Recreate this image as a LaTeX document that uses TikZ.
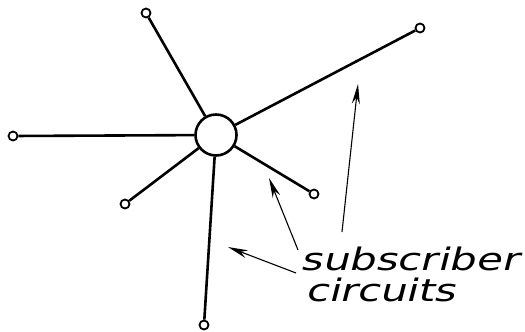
\documentclass[tikz,border=0pt]{standalone}
\usepackage{fontspec}
\newfontfamily\lblfont[FakeSlant=0.25,FakeStretch=1.35]{DejaVu Sans}
\usetikzlibrary{arrows.meta}
\begin{document}
\begin{tikzpicture}[x=1pt,y=-1pt,
  hub/.style={circle,draw,line width=2.6pt,minimum size=41pt,inner sep=0pt},
  term/.style={circle,draw,line width=1.8pt,minimum size=9pt,inner sep=0pt},
  wire/.style={line width=2.6pt},
  pointer/.style={line width=1.1pt,-{Stealth[length=20pt,width=8pt]}},
  lbl/.style={font=\lblfont\fontsize{31}{31}\selectfont,inner sep=0pt,anchor=west}]
\useasboundingbox (0,0) rectangle (525,332);
\node[hub] (c) at (216,135) {};
\node[term] (t1) at (146,13) {};
\node[term] (t2) at (420,28) {};
\node[term] (t3) at (13,136) {};
\node[term] (t4) at (125,204) {};
\node[term] (t5) at (314,194) {};
\node[term] (t6) at (204,325) {};
\foreach \t in {t1,t2,t3,t4,t5,t6} \draw[wire] (\t) -- (c);
\node[lbl] (s1) at (300,259) {subscriber};
\node[lbl] (s2) at (305,290) {circuits};
\coordinate (a1) at (342,232);
\coordinate (a2) at (298,250);
\coordinate (a3) at (296,273);
\coordinate (h1) at (358,84);
\coordinate (h2) at (269,178);
\coordinate (h3) at (228,247);
\draw[pointer] (a1) -- (h1);
\draw[pointer] (a2) -- (h2);
\draw[pointer] (a3) -- (h3);
\end{tikzpicture}
\end{document}
